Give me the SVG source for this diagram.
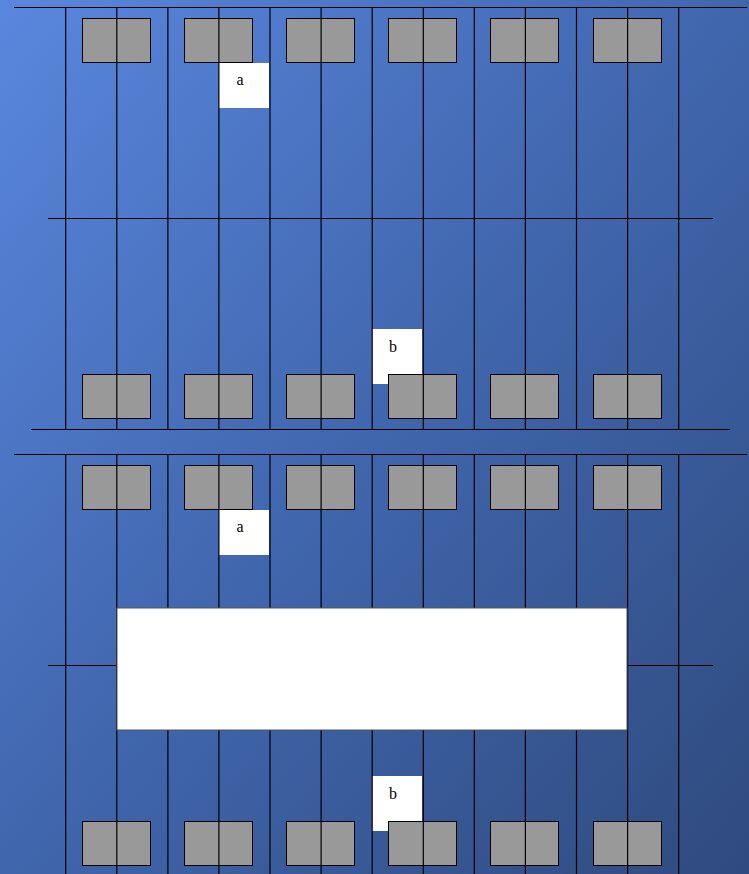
<svg xmlns="http://www.w3.org/2000/svg" width="749" height="874" viewBox="0 0 749 874">
<defs>
<linearGradient id="bg" x1="0" y1="0" x2="1" y2="1">
<stop offset="0" stop-color="#5a87de"/>
<stop offset="0.5" stop-color="#4066ad"/>
<stop offset="1" stop-color="#2f4a7e"/>
</linearGradient>
<style>
.ln{stroke:#000;stroke-width:1.2;fill:none}
.gb{fill:#999;stroke:#000;stroke-width:1}
.wb{fill:#fff;stroke:none}
.tx{font-family:"Liberation Serif",serif;font-size:16px;fill:#000;text-anchor:middle}
</style>
<g id="panel">
<g id="grayTop">
<rect class="gb" x="82.5" y="18.5" width="68" height="44"/>
<rect class="gb" x="184.5" y="18.5" width="68" height="44"/>
<rect class="gb" x="286.5" y="18.5" width="68" height="44"/>
<rect class="gb" x="388.5" y="18.5" width="68" height="44"/>
<rect class="gb" x="490.5" y="18.5" width="68" height="44"/>
<rect class="gb" x="593.5" y="18.5" width="68" height="44"/>
</g>
<g id="labelA"><rect class="wb" x="219" y="63" width="50" height="45"/><text class="tx" x="240" y="85">a</text></g>
<g id="labelB"><rect class="wb" x="372" y="329" width="50" height="55"/><text class="tx" x="393" y="352">b</text></g>
<g id="grayBottom">
<rect class="gb" x="82.5" y="374.5" width="68" height="44"/>
<rect class="gb" x="184.5" y="374.5" width="68" height="44"/>
<rect class="gb" x="286.5" y="374.5" width="68" height="44"/>
<rect class="gb" x="388.5" y="374.5" width="68" height="44"/>
<rect class="gb" x="490.5" y="374.5" width="68" height="44"/>
<rect class="gb" x="593.5" y="374.5" width="68" height="44"/>
</g>
<g id="gridLines">
<path class="ln" d="M14 7.5H747M48 218.5H713M31 429.5H730"/>
<path class="ln" d="M65.7 7V429M116.8 7V429M167.9 7V429M218.9 7V429M270 7V429M321.1 7V429M372.2 7V429M423.3 7V429M474.3 7V429M525.4 7V429M576.5 7V429M627.6 7V429M678.7 7V429"/>
</g>
</g>
</defs>
<rect x="0" y="0" width="749" height="874" fill="url(#bg)"/>
<g id="upperPanel"><use href="#panel"/></g>
<g id="lowerPanel" transform="translate(0,447)"><use href="#panel"/></g>
<g id="bigBox"><rect x="117" y="608" width="510" height="122" fill="#fff" stroke="#555" stroke-width="1"/></g>
</svg>
